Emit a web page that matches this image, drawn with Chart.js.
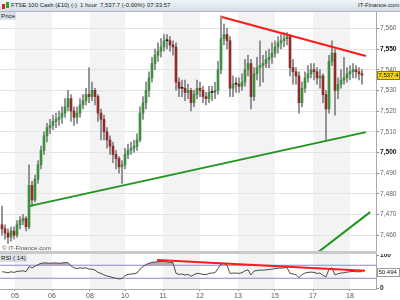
<!DOCTYPE html>
<html lang="en">
<head>
<meta charset="UTF-8">
<title>FTSE 100 Cash - 1 hour</title>
<script src="https://cdn.jsdelivr.net/npm/chart.js"></script>
<style>
  body { margin: 0; background: #fff; font-family: "Liberation Sans", Arial, sans-serif; }
  #wrap { position: relative; width: 400px; height: 300px; overflow: hidden; }
  #topbar { position: absolute; left: 0; top: 0; width: 400px; height: 11px; border-bottom: 1px solid #a9b8c6;
            background: linear-gradient(#f1f5f8, #d3dde6); font-size: 6px; line-height: 11px; color: #1c1c1c; }
  #topbar span { position: absolute; top: 0; white-space: nowrap; }
  .ico { position: absolute; width: 3px; }
  #pricebox { position: absolute; left: 0; top: 12px; width: 400px; height: 239px; }
  #sep { position: absolute; left: 0; top: 251px; width: 377px; height: 3px; background: #c9c9c9; }
  #rsibox { position: absolute; left: 0; top: 254px; width: 400px; height: 46px; }
  .tag { position: absolute; font-size: 6.2px; line-height: 8px; padding: 0 1px; color: #222; white-space: nowrap; z-index: 2; }
</style>
</head>
<body>
<div id="wrap">
  <div id="topbar">
    <div class="ico" style="left:2px;top:4px;height:5px;background:#d22"></div>
    <div class="ico" style="left:6px;top:2px;height:6px;background:#2a2"></div>
    <span style="left:11px">FTSE 100 Cash (£10) (-)</span>
    <span style="left:80px">1 hour</span>
    <span style="left:100px">7,537.7 (-0.00%)</span>
    <span style="left:147px">07:33:57</span>
    <span style="left:358px">IT-Finance.com</span>
  </div>
  <div id="pricebox"><canvas id="priceChart"></canvas></div>
  <div id="sep"></div>
  <div id="rsibox"><canvas id="rsiChart"></canvas></div>
  <div class="tag" style="left:0;top:12px;background:#d9e0e6">Price</div>
  <div class="tag" style="left:1px;top:244px;color:#555">© IT-Finance.com</div>
  <div class="tag" style="left:0;top:254px;background:#d9e0e6">RSI ( 14)</div>
</div>

<script>
  // day boundaries (candle index) and their labels
  const dayLabels = ['05', '06', '08', '10', '11', '12', '13', '15', '17', '18'];
  const dayStarts = [4.33, 16.67, 29.33, 41, 53.67, 66, 78.67, 91, 103.67, 116];

  const priceTicks = [7460, 7470, 7480, 7490, 7500, 7510, 7520, 7530, 7540, 7550, 7560];

  const closes = [
    7463, 7461, 7459, 7462, 7460, 7465, 7467, 7468, 7464, 7484,
    7477, 7487, 7494, 7501, 7508, 7512, 7513, 7515, 7516, 7517,
    7519, 7522, 7526, 7520, 7517, 7519, 7523, 7525, 7528, 7527,
    7530, 7527, 7519, 7516, 7510, 7506, 7503, 7499, 7497, 7493,
    7494, 7499, 7501, 7502, 7503, 7506, 7519, 7524, 7530, 7536,
    7543, 7547, 7549, 7551, 7554, 7554, 7552, 7551, 7534, 7531,
    7531, 7529, 7530, 7524, 7528, 7531, 7530, 7527, 7526, 7529,
    7529, 7530, 7540, 7555, 7557, 7554, 7531, 7533, 7533, 7532,
    7534, 7540, 7543, 7527, 7538, 7541, 7542, 7543, 7545, 7546,
    7548, 7551, 7553, 7554, 7555, 7556, 7541, 7539, 7537, 7524,
    7531, 7536, 7538, 7540, 7539, 7536, 7537, 7528, 7521, 7544,
    7548, 7530, 7533, 7535, 7536, 7538, 7539, 7540, 7539, 7538, 7537.4
  ];
  const highs = [
    7474, 7465, 7463, 7464, 7464, 7467, 7469, 7470, 7469, 7494,
    7486, 7489, 7496, 7503, 7510, 7514, 7516, 7518, 7519, 7520,
    7522, 7526, 7530, 7528, 7522, 7522, 7526, 7528, 7531, 7541,
    7534, 7531, 7528, 7521, 7518, 7512, 7508, 7505, 7501, 7498,
    7496, 7502, 7504, 7505, 7506, 7509, 7522, 7527, 7534, 7539,
    7546, 7550, 7553, 7555, 7557, 7557, 7556, 7554, 7553, 7536,
    7535, 7535, 7533, 7531, 7530, 7535, 7534, 7532, 7529, 7532,
    7532, 7534, 7544, 7566, 7562, 7560, 7556, 7537, 7536, 7536,
    7538, 7545, 7547, 7545, 7541, 7546, 7554, 7547, 7549, 7550,
    7553, 7554, 7556, 7557, 7558, 7558, 7557, 7545, 7541, 7539,
    7534, 7539, 7542, 7543, 7543, 7541, 7540, 7538, 7530, 7547,
    7554, 7550, 7536, 7540, 7546, 7541, 7542, 7543, 7542, 7541, 7540
  ];
  const lows = [
    7460, 7458, 7456, 7457, 7458, 7459, 7463, 7465, 7462, 7463,
    7474, 7476, 7485, 7492, 7499, 7505, 7509, 7511, 7512, 7513,
    7514, 7517, 7520, 7515, 7513, 7514, 7517, 7521, 7523, 7524,
    7525, 7523, 7515, 7506, 7506, 7502, 7499, 7495, 7492, 7490,
    7485, 7492, 7497, 7499, 7500, 7501, 7505, 7516, 7521, 7527,
    7534, 7540, 7544, 7546, 7549, 7550, 7549, 7547, 7530, 7527,
    7527, 7525, 7526, 7520, 7522, 7526, 7527, 7524, 7523, 7524,
    7525, 7526, 7528, 7538, 7552, 7550, 7527, 7527, 7529, 7529,
    7530, 7532, 7537, 7521, 7525, 7535, 7532, 7534, 7541, 7541,
    7543, 7546, 7548, 7550, 7551, 7552, 7537, 7533, 7533, 7519,
    7522, 7529, 7534, 7536, 7535, 7533, 7531, 7524, 7506, 7519,
    7542, 7518, 7526, 7531, 7533, 7534, 7535, 7536, 7536, 7535, 7533
  ];
  // each candle opens at the previous close
  const opens = closes.map((c, i) => (i === 0 ? 7465 : closes[i - 1]));

  const rsi14 = [
    50, 49, 47, 50, 48, 51, 52, 53, 50, 66,
    62, 67, 72, 76, 77, 77, 76, 77, 77, 76,
    77, 78, 78, 68, 62, 60, 62, 61, 62, 58,
    58, 55, 48, 45, 40, 37, 35, 32, 30, 28,
    29, 38, 42, 43, 44, 46, 58, 66, 72, 76,
    79, 80, 81, 82, 82, 80, 79, 78, 45, 42,
    43, 40, 42, 36, 41, 45, 44, 42, 41, 45,
    46, 47, 60, 74, 76, 70, 45, 46, 46, 45,
    47, 53, 56, 40, 52, 54, 55, 55, 56, 57,
    58, 60, 61, 61, 62, 63, 45, 43, 41, 32,
    41, 46, 48, 49, 48, 45, 46, 39, 34, 58,
    62, 40, 44, 46, 47, 49, 50, 51, 50, 50, 50.494
  ];

  // drawn trend lines [candle index, value]
  const resistanceLine = [{ x: 73.3, y: 7565.5 }, { x: 121.3, y: 7546.6 }];
  const supportLine = [{ x: 9, y: 7474 }, { x: 121.3, y: 7509.8 }];
  const channelLine = [{ x: 105, y: 7451.3 }, { x: 122.7, y: 7471.1 }];
  const rsiTrend = [{ x: 51.7, y: 86.2 }, { x: 121, y: 53.2 }];

  const lastPrice = 7537.4;
  const lastRsi = 50.494;

  Chart.defaults.font.family = '"Liberation Sans", Arial, sans-serif';
  Chart.defaults.font.size = 7;
  Chart.defaults.animation = false;

  const xMin = -0.667, xMax = 124.667;

  const dayBands = {
    id: 'dayBands',
    beforeDraw(chart) {
      const { ctx, chartArea: a, scales: { x } } = chart;
      ctx.save();
      ctx.fillStyle = '#f3f3f3';
      for (let k = 0; k + 1 < dayStarts.length; k += 2) {
        const x0 = x.getPixelForValue(dayStarts[k]);
        const x1 = x.getPixelForValue(dayStarts[k + 1]);
        ctx.fillRect(x0, a.top, x1 - x0, a.bottom - a.top);
      }
      ctx.restore();
    }
  };

  const valueTag = {
    id: 'valueTag',
    afterDraw(chart, args, opts) {
      const { ctx, chartArea: a, scales: { y } } = chart;
      const py = Math.round(y.getPixelForValue(opts.value));
      ctx.save();
      ctx.fillStyle = opts.bg;
      ctx.fillRect(a.right + 1, py - 4, 23, 9);
      ctx.strokeStyle = opts.border;
      ctx.lineWidth = 1;
      ctx.strokeRect(a.right + 1.5, py - 3.5, 22, 8);
      ctx.fillStyle = '#111';
      ctx.font = '6px "Liberation Sans", Arial, sans-serif';
      ctx.textBaseline = 'middle';
      ctx.fillText(opts.text, a.right + 2.5, py + 0.5);
      ctx.restore();
    }
  };

  const bodies = closes.map((c, i) => ({ x: i, y: [opens[i], c] }));
  const wicks = closes.map((c, i) => ({ x: i, y: [lows[i], highs[i]] }));
  const bodyColors = closes.map((c, i) =>
    c > opens[i] ? '#3d8f3d' : c < opens[i] ? '#8e2b2b' : '#111');

  new Chart(document.getElementById('priceChart'), {
    type: 'bar',
    data: {
      datasets: [
        { type: 'line', data: resistanceLine, borderColor: '#ff1a1a', borderWidth: 2, pointRadius: 0 },
        { type: 'line', data: supportLine, borderColor: '#1e961e', borderWidth: 2, pointRadius: 0 },
        { type: 'line', data: channelLine, borderColor: '#1e961e', borderWidth: 2, pointRadius: 0 },
        { data: bodies, backgroundColor: bodyColors, barThickness: 2, minBarLength: 1, grouped: false },
        { data: wicks, backgroundColor: '#808080', barThickness: 1, grouped: false }
      ]
    },
    options: {
      responsive: true,
      maintainAspectRatio: false,
      layout: { padding: 0 },
      plugins: {
        legend: { display: false },
        tooltip: { enabled: false },
        valueTag: { value: lastPrice, text: '7,537.4', bg: '#f2d21e', border: '#8a7a20' }
      },
      scales: {
        x: { type: 'linear', min: xMin, max: xMax, offset: false, display: false },
        y: {
          position: 'right',
          min: 7452.3,
          max: 7567.9,
          afterBuildTicks: s => { s.ticks = priceTicks.map(v => ({ value: v })); },
          afterFit: s => { s.width = 24; s.paddingTop = 0; s.paddingBottom = 0; },
          border: { display: true, color: '#a9a9a9' },
          grid: { color: '#e4e4e4', tickColor: '#8a8a8a', tickLength: 3 },
          ticks: {
            padding: 1,
            callback: v => v.toLocaleString('en-US'),
            color: ctx => (ctx.tick && ctx.tick.value % 50 === 0 ? '#111' : '#666'),
            font: ctx => ({ size: 6.6, weight: ctx.tick && ctx.tick.value % 50 === 0 ? 'bold' : 'normal' })
          }
        }
      }
    },
    plugins: [dayBands, valueTag]
  });

  const rsiPoints = rsi14.map((v, i) => ({ x: i, y: v }));
  const shade = '#c9a7a7';

  new Chart(document.getElementById('rsiChart'), {
    type: 'line',
    data: {
      datasets: [
        { data: rsiTrend, borderColor: '#ff1a1a', borderWidth: 2, pointRadius: 0 },
        { data: rsiPoints, borderColor: '#4d4d4d', borderWidth: 1, pointRadius: 0,
          fill: { target: { value: 70 }, above: shade, below: 'rgba(0,0,0,0)' } },
        { data: rsiPoints, borderColor: 'rgba(0,0,0,0)', borderWidth: 0, pointRadius: 0,
          fill: { target: { value: 30 }, above: 'rgba(0,0,0,0)', below: shade } },
        { data: [{ x: xMin, y: 70 }, { x: xMax, y: 70 }], borderColor: '#8585e0', borderWidth: 1, pointRadius: 0 },
        { data: [{ x: xMin, y: 30 }, { x: xMax, y: 30 }], borderColor: '#8585e0', borderWidth: 1, pointRadius: 0 }
      ]
    },
    options: {
      responsive: true,
      maintainAspectRatio: false,
      layout: { padding: 0 },
      plugins: {
        legend: { display: false },
        tooltip: { enabled: false },
        valueTag: { value: lastRsi, text: '50.494', bg: '#ffffff', border: '#9a9a9a' }
      },
      scales: {
        x: {
          type: 'linear', min: xMin, max: xMax, offset: false,
          afterBuildTicks: s => { s.ticks = dayStarts.map(v => ({ value: v })); },
          afterFit: s => { s.height = 11; s.paddingLeft = 0; s.paddingRight = 0; },
          border: { display: true, color: '#a9a9a9' },
          grid: { drawOnChartArea: false, tickLength: 2, tickColor: '#999' },
          ticks: { padding: 1, maxRotation: 0, autoSkip: false, color: '#555',
                   callback: (v, i) => dayLabels[i] }
        },
        y: {
          position: 'right', min: -3, max: 104.6,
          afterBuildTicks: s => { s.ticks = [{ value: 0 }, { value: 100 }]; },
          afterFit: s => { s.width = 24; s.paddingTop = 0; s.paddingBottom = 0; },
          border: { display: true, color: '#a9a9a9' },
          grid: { drawOnChartArea: false, tickLength: 3, tickColor: '#8a8a8a' },
          ticks: { padding: 1, color: '#222', font: { size: 6.6, weight: 'bold' } }
        }
      }
    },
    plugins: [dayBands, valueTag]
  });
</script>
</body>
</html>
